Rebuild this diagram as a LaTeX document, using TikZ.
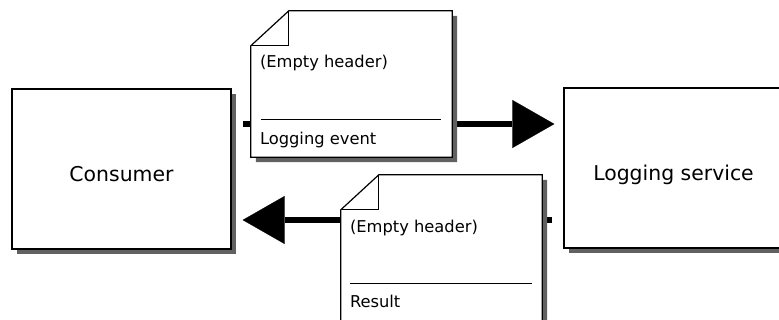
\documentclass[tikz,border=0pt]{standalone}
\usepackage{fontspec}
\setmainfont{DejaVu Sans}
\usetikzlibrary{arrows.meta,shadows}

\tikzset{
  shade/.style={drop shadow={shadow xshift=5pt, shadow yshift=-5pt, fill=black!62, opacity=1}},
  party/.style={draw=black, line width=1.4pt, fill=white, shade,
    minimum width=219pt, minimum height=160pt, inner sep=0pt,
    text height=25pt, text depth=0pt, font=\fontsize{20.4}{24}\selectfont},
  docframe/.style={minimum width=201pt, minimum height=146pt, inner sep=0pt},
  docoutline/.style={draw=black, line width=1.2pt, fill=white, shade, line join=miter},
  foldline/.style={draw=black, line width=1pt},
  sepline/.style={draw=black, line width=1pt},
  doctext/.style={anchor=west, inner sep=0pt, font=\fontsize{16.3}{19}\selectfont},
  msgflow/.style={draw=black, line width=5.5pt,
    -{Triangle[length=42pt, width=48pt, line width=0.1pt]}},
}

\begin{document}
\begin{tikzpicture}[x=1pt, y=-1pt]
  \useasboundingbox (0,0) rectangle (779,320);
  \clip (0,0) rectangle (779,320);

  % the two parties
  \node[party] (consumer) at (121.5,169) {Consumer};
  \node[party] (service) at (673.5,168) {Logging service};

  % message flows
  \draw[msgflow] ([xshift=11pt, yshift=45pt]consumer.east) -- ([xshift=-9pt, yshift=44pt]service.west);
  \draw[msgflow] ([xshift=-11pt, yshift=-52pt]service.west) -- ([xshift=11pt, yshift=-51pt]consumer.east);

  % request document
  \node[docframe] (req) at (351.5,84) {};
  \path[docoutline] ([yshift=-35pt]req.north west) -- ([xshift=38pt]req.north west)
    -- (req.north east) -- (req.south east) -- (req.south west) -- cycle;
  \draw[foldline] ([xshift=38pt]req.north west) -- ([xshift=38pt, yshift=-35pt]req.north west)
    -- ([yshift=-35pt]req.north west);
  \node[doctext] (reqhead) at ([xshift=9pt, yshift=-52pt]req.north west) {(Empty header)};
  \draw[sepline] ([xshift=10pt, yshift=-109pt]req.north west) -- ([xshift=-11pt, yshift=-109pt]req.north east);
  \node[doctext] (reqbody) at ([xshift=9pt, yshift=-129pt]req.north west) {Logging event};

  % response document
  \node[docframe] (res) at (441.5,248) {};
  \path[docoutline] ([yshift=-35pt]res.north west) -- ([xshift=38pt]res.north west)
    -- (res.north east) -- (res.south east) -- (res.south west) -- cycle;
  \draw[foldline] ([xshift=38pt]res.north west) -- ([xshift=38pt, yshift=-35pt]res.north west)
    -- ([yshift=-35pt]res.north west);
  \node[doctext] (reshead) at ([xshift=9pt, yshift=-53pt]res.north west) {(Empty header)};
  \draw[sepline] ([xshift=9pt, yshift=-109pt]res.north west) -- ([xshift=-10pt, yshift=-109pt]res.north east);
  \node[doctext] (resbody) at ([xshift=9pt, yshift=-127pt]res.north west) {Result};
\end{tikzpicture}
\end{document}
